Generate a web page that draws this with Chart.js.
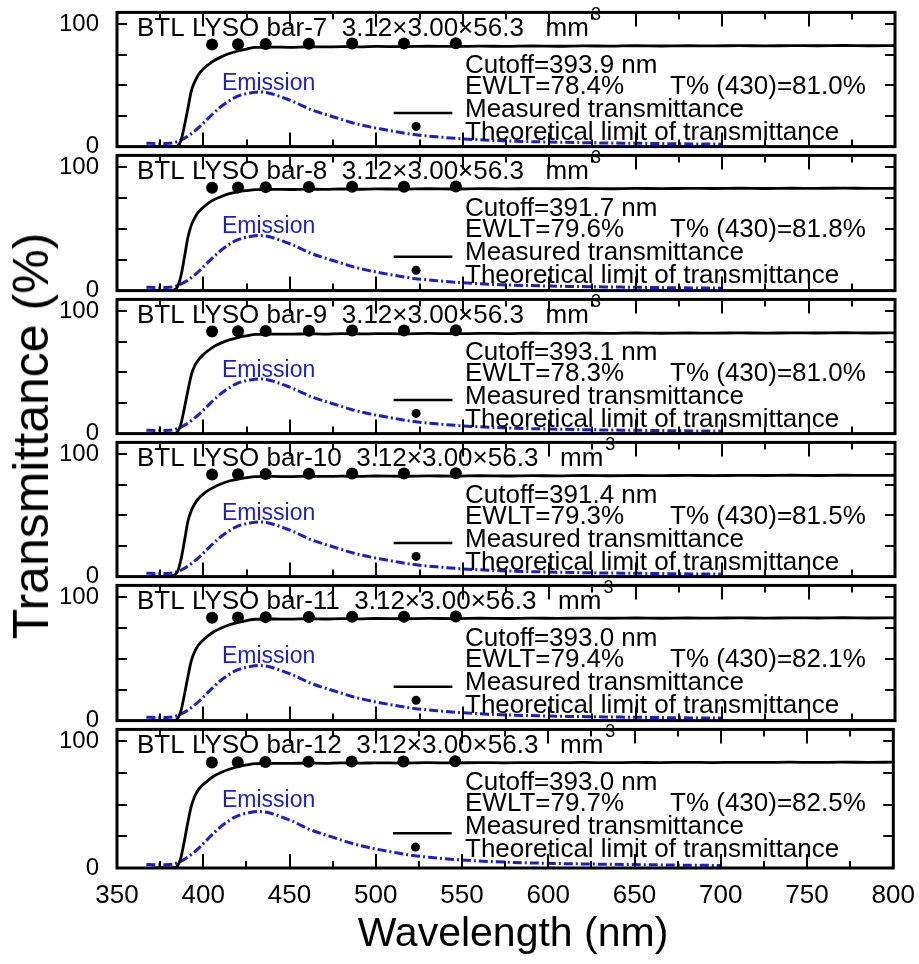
<!DOCTYPE html>
<html>
<head>
<meta charset="utf-8">
<title>BTL LYSO bars - transmittance</title>
<script src="https://cdn.jsdelivr.net/npm/chart.js@4.4.1/dist/chart.umd.min.js"></script>
<style>
  html, body { margin: 0; padding: 0; background: #fff; }
  #fig { position: relative; width: 919px; height: 964px; overflow: hidden; background: #fff;
         font-family: "Liberation Sans", Arial, sans-serif; color: #000; }
  #fig canvas { position: absolute; left: 0; }
  .ytitle { position: absolute; left: 31px; top: 436px; font-size: 50px; line-height: 50px; white-space: nowrap;
            transform: translate(-50%, -50%) rotate(-90deg); }
  .xtitle { position: absolute; left: 513px; top: 912px; font-size: 41px; line-height: 41px; white-space: nowrap;
            transform: translateX(-50%); }
</style>
</head>
<body>
<div id="fig">
  <div class="ytitle">Transmittance (%)</div>
  <div class="xtitle">Wavelength (nm)</div>
</div>
<script>
// ---- data -------------------------------------------------------------
const barNames = ['bar-7', 'bar-8', 'bar-9', 'bar-10', 'bar-11', 'bar-12'];
const cutoffs  = ['393.9', '391.7', '393.1', '391.4', '393.0', '393.0'];
const ewlt     = ['78.4', '79.6', '78.3', '79.3', '79.4', '79.7'];
const t430     = ['81.0', '81.8', '81.0', '81.5', '82.1', '82.5'];

// wavelength grid (nm) of the measured transmittance curves
const wavelengths = [370, 380, 383, 385, 387, 389, 391, 393, 395, 397, 400, 403, 406, 410, 415, 420, 425, 430,
  440, 450, 460, 470, 480, 490, 500, 515, 530, 545, 560, 575, 590, 605, 620, 635, 650, 665, 680, 695,
  710, 725, 740, 755, 770, 785, 800];

// measured transmittance (%) for each bar
const tBar7  = [0, 0, 0, 0.5, 5, 17, 31, 45.5, 53, 58.5, 63.5, 67, 70, 73, 76, 78, 79.6, 81.0,
  81.2, 81.0, 81.4, 81.3, 81.6, 81.4, 81.7, 81.5, 81.9, 81.7, 82.0, 81.8, 82.1, 81.9, 82.2, 82.0, 82.3, 82.1, 82.3, 82.2,
  82.4, 82.2, 82.4, 82.3, 82.5, 82.3, 82.4];
const tBar8  = [0, 0, 0.5, 3, 12, 27, 43, 53, 59, 63.5, 67.5, 71, 73.5, 76, 78.5, 80, 81, 81.8,
  82.0, 81.9, 82.2, 82.0, 82.3, 82.1, 82.4, 82.2, 82.5, 82.3, 82.6, 82.4, 82.6, 82.5, 82.7, 82.5, 82.8, 82.6, 82.8, 82.7,
  82.9, 82.7, 82.9, 82.8, 83.0, 82.8, 82.9];
const tBar9  = [0, 0, 0.2, 1.5, 8, 21, 35, 48, 55.5, 60, 64.5, 68, 71, 73.8, 76.5, 78.4, 79.8, 81.0,
  81.2, 81.1, 81.4, 81.2, 81.5, 81.3, 81.6, 81.4, 81.7, 81.5, 81.8, 81.6, 81.9, 81.7, 82.0, 81.8, 82.1, 81.9, 82.1, 82.0,
  82.2, 82.0, 82.2, 82.1, 82.3, 82.1, 82.2];
const tBar10 = [0, 0.3, 1, 4, 14, 29, 45, 54, 59.5, 63.5, 67.5, 70.5, 73, 75.5, 78, 79.6, 80.7, 81.5,
  81.7, 81.6, 81.9, 81.7, 82.0, 81.8, 82.1, 81.9, 82.2, 82.0, 82.3, 82.1, 82.4, 82.2, 82.5, 82.3, 82.5, 82.4, 82.6, 82.4,
  82.6, 82.5, 82.7, 82.5, 82.7, 82.6, 82.7];
const tBar11 = [0, 0, 0.2, 1.5, 8, 21, 35.5, 48.5, 56, 61, 65.5, 69, 72, 74.8, 77.5, 79.5, 81, 82.1,
  82.3, 82.2, 82.5, 82.3, 82.6, 82.4, 82.7, 82.5, 82.8, 82.6, 82.9, 82.7, 83.0, 82.8, 83.0, 82.9, 83.1, 82.9, 83.1, 83.0,
  83.2, 83.0, 83.2, 83.1, 83.3, 83.1, 83.2];
const tBar12 = [0, 0, 0.2, 1.5, 8, 21, 35.5, 48.5, 56.5, 61.5, 66, 69.5, 72.5, 75.3, 78, 80, 81.4, 82.5,
  82.7, 82.6, 82.9, 82.7, 83.0, 82.8, 83.1, 82.9, 83.2, 83.0, 83.3, 83.1, 83.3, 83.2, 83.4, 83.2, 83.4, 83.3, 83.5, 83.3,
  83.5, 83.4, 83.6, 83.4, 83.6, 83.5, 83.6];
const measured = [tBar7, tBar8, tBar9, tBar10, tBar11, tBar12];

// LYSO emission spectrum (arbitrary units on the % axis)
const emissionWl = [367, 372, 378, 383, 388, 394, 398, 402, 406, 410, 414, 418, 422, 427, 432, 437, 442, 447,
  452, 457, 462, 470, 478, 486, 494, 502, 512, 522, 535, 548, 565, 580, 600, 625, 650, 675, 700];
const emission = [2.8, 2.6, 2.6, 3.2, 6, 11.6, 16.5, 22, 27.5, 32.5, 36.5, 40, 42.2, 43.8, 44.6, 44, 42, 39.5,
  36.8, 33.5, 30.3, 26.5, 23, 19.5, 16.8, 14.5, 12, 9.8, 8, 6.5, 5.2, 4.4, 3.7, 3.1, 2.7, 2.3, 2.0];

// theoretical limit of transmittance
const theoryWl = [405, 420, 436, 461, 486, 516, 546];
const theoryT  = [83.3, 83.6, 83.8, 84.0, 84.1, 84.2, 84.3];

// legend samples inside each panel
const legendLineWl = [510, 544];
const legendLineT  = [27.5, 27.5];
const legendDotWl  = [523];
const legendDotT   = [16.5];

const yLabeled = [0, 100];

// ---- layout -----------------------------------------------------------
const FONT = '"Liberation Sans", Arial, sans-serif';
const panelTops = [8, 151, 295, 438, 581, 725];
const panelsBottom = 868;
const PAD = 20;
const EMISSION_BLUE = '#1e1ec8';

const pts = (xs, ys) => xs.map((x, i) => ({ x, y: ys[i] }));

// frame, inward ticks and panel annotations
const panelFrame = {
  id: 'panelFrame',
  afterDatasetsDraw(chart) {
    const { ctx, chartArea: a } = chart;
    const xs = chart.scales.x, ys = chart.scales.y;
    const o = chart.options.plugins.panelFrame;
    ctx.save();
    ctx.strokeStyle = '#000';
    ctx.lineWidth = 2;
    ctx.beginPath();
    for (let v = 350; v <= 800; v += 25) {
      const px = Math.round(xs.getPixelForValue(v));
      const len = v % 50 === 0 ? 14 : 7;
      ctx.moveTo(px, a.bottom); ctx.lineTo(px, a.bottom - len);
      ctx.moveTo(px, a.top); ctx.lineTo(px, a.top + len);
    }
    for (let v = 0; v <= 100; v += 25) {
      const py = Math.round(ys.getPixelForValue(v));
      ctx.moveTo(a.left, py); ctx.lineTo(a.left + 10, py);
      ctx.moveTo(a.right, py); ctx.lineTo(a.right - 10, py);
    }
    ctx.stroke();
    ctx.lineWidth = 3;
    ctx.strokeRect(a.left, a.top, a.right - a.left, a.bottom - a.top);

    ctx.fillStyle = '#000';
    ctx.textAlign = 'left';
    ctx.textBaseline = 'alphabetic';
    ctx.font = '26px ' + FONT;
    const title = 'BTL LYSO ' + o.bar + '  3.12\u00d73.00\u00d756.3   mm';
    ctx.fillText(title, a.left + 20, a.top + 24);
    const tw = ctx.measureText(title).width;
    ctx.font = '18px ' + FONT;
    ctx.fillText('3', a.left + 20 + tw + 2, a.top + 8);

    ctx.font = '26px ' + FONT;
    const tx = a.left + 348;
    ctx.fillText('Cutoff=' + o.cutoff + ' nm', tx, a.top + 61);
    ctx.fillText('EWLT=' + o.ewlt + '%', tx, a.top + 82);
    ctx.fillText('T% (430)=' + o.t430 + '%', a.left + 553, a.top + 82);
    ctx.fillText('Measured transmittance', tx, a.top + 105);
    ctx.fillText('Theoretical limit of transmittance', tx, a.top + 128);

    ctx.fillStyle = EMISSION_BLUE;
    ctx.font = '23px ' + FONT;
    ctx.fillText('Emission', a.left + 105, a.top + 78);
    ctx.restore();
  }
};

const fig = document.getElementById('fig');

barNames.forEach((bar, i) => {
  const last = i === barNames.length - 1;
  const top = panelTops[i];
  const bottom = last ? panelsBottom : panelTops[i + 1];
  const h = bottom - top;
  const canvasTop = top - PAD;
  const canvasH = last ? 964 - canvasTop : h + 2 * PAD;
  const xAxisH = 40;
  const padBottom = last ? canvasH - PAD - h - xAxisH : PAD;

  const cv = document.createElement('canvas');
  cv.width = 919;
  cv.height = canvasH;
  cv.style.top = canvasTop + 'px';
  cv.style.width = '919px';
  cv.style.height = canvasH + 'px';
  fig.insertBefore(cv, fig.firstChild);

  const xScale = {
    type: 'linear', min: 350, max: 800, display: last,
    grid: { display: false }, border: { display: false },
    ticks: { stepSize: 50, padding: 4, maxRotation: 0, autoSkip: false, color: '#000',
             font: { family: FONT, size: 26 } }
  };
  if (last) xScale.afterFit = s => { s.height = xAxisH; };

  new Chart(cv, {
    type: 'line',
    data: {
      datasets: [
        { data: pts(theoryWl, theoryT), showLine: false, pointRadius: 6, pointBackgroundColor: '#000',
          pointBorderColor: '#000', pointBorderWidth: 0 },
        { data: pts(legendDotWl, legendDotT), showLine: false, pointRadius: 4.5, pointBackgroundColor: '#000',
          pointBorderWidth: 0 },
        { data: pts(legendLineWl, legendLineT), borderColor: '#000', borderWidth: 2.5, pointRadius: 0 },
        { data: pts(wavelengths, measured[i]), borderColor: '#000', borderWidth: 2.8, pointRadius: 0,
          cubicInterpolationMode: 'monotone' },
        { data: pts(emissionWl, emission), borderColor: EMISSION_BLUE, borderWidth: 3, pointRadius: 0,
          borderDash: [9, 3, 2, 3], cubicInterpolationMode: 'monotone' }
      ]
    },
    options: {
      responsive: false,
      animation: false,
      devicePixelRatio: 1,
      layout: { padding: { top: PAD, right: 24, bottom: padBottom, left: 0 } },
      plugins: {
        legend: { display: false },
        tooltip: { enabled: false },
        panelFrame: { bar, cutoff: cutoffs[i], ewlt: ewlt[i], t430: t430[i] }
      },
      scales: {
        x: xScale,
        y: {
          min: 0, max: 109.5,
          grid: { display: false }, border: { display: false },
          ticks: { stepSize: 25, includeBounds: false, padding: 10, autoSkip: false, color: '#000',
                   font: { family: FONT, size: 24 },
                   callback: v => (yLabeled.includes(v) ? String(v) : '') },
          afterFit: s => { s.width = 117; }
        }
      }
    },
    plugins: [panelFrame]
  });
});
</script>
</body>
</html>
